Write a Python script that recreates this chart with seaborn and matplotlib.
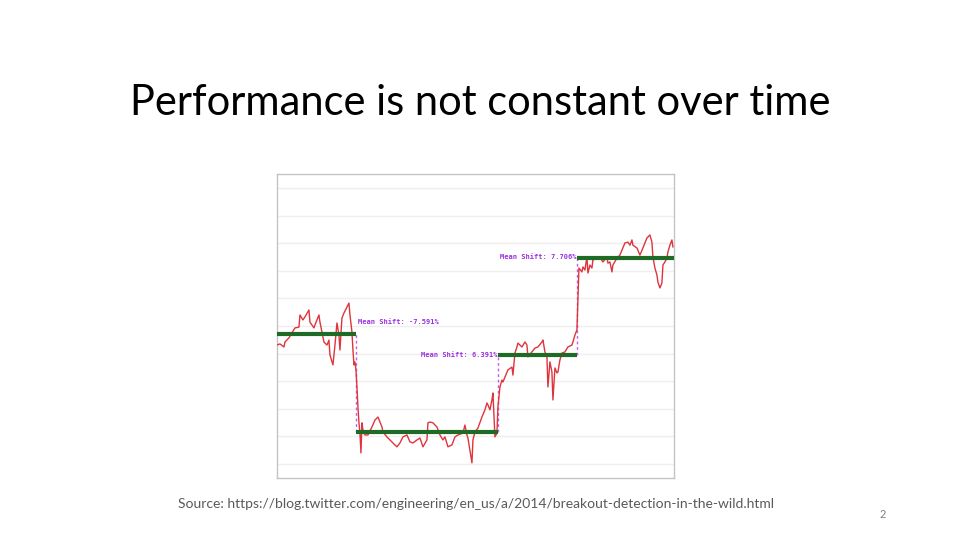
import numpy as np
import pandas as pd
import seaborn as sns
import matplotlib.pyplot as plt

# series (time step, value)
t = [0, 3, 7, 8, 12, 15, 18, 22, 23, 26, 28, 32, 33, 37, 38, 42, 43, 47, 50, 52,
     53, 56, 58, 60, 62, 63, 65, 67, 70, 72, 73, 75, 76, 77, 78, 79, 80, 81, 82, 83,
     84, 85, 86, 88, 91, 95, 98, 101, 103, 105, 106, 110, 113, 116, 120, 123, 126, 130, 133, 136,
     140, 143, 146, 150, 151, 153, 156, 160, 163, 166, 168, 171, 175, 178, 181, 186, 188, 190, 191, 195,
     196, 198, 201, 205, 208, 210, 211, 213, 215, 216, 218, 220, 221, 223, 225, 226, 228, 231, 235, 236,
     238, 240, 241, 245, 248, 250, 251, 255, 258, 261, 265, 266, 268, 270, 271, 273, 275, 276, 278, 280,
     281, 283, 285, 288, 291, 295, 296, 298, 300, 301, 302, 305, 306, 308, 310, 311, 313, 315, 316, 320,
     323, 326, 330, 331, 333, 335, 336, 340, 343, 345, 348, 351, 353, 355, 356, 360, 363, 366, 370, 373,
     375, 376, 378, 380, 381, 383, 385, 386, 388, 390, 391, 393, 395, 396]
values = [5.31, 5.35, 5.24, 5.42, 5.57, 5.75, 5.93, 5.96, 6.40, 6.22, 6.33, 6.58, 6.14, 5.93, 6.04, 6.40, 6.14, 5.42, 5.31, 5.49,
          4.95, 4.59, 5.31, 6.11, 5.67, 5.13, 6.29, 6.47, 6.69, 6.83, 6.40, 5.78, 5.13, 4.59, 4.70, 4.41, 3.79, 3.07, 2.49, 2.12,
          1.40, 2.49, 2.23, 2.05, 2.05, 2.34, 2.59, 2.70, 2.52, 2.34, 2.16, 1.98, 1.87, 1.76, 1.62, 1.76, 1.98, 2.05, 1.80, 1.76,
          1.87, 1.94, 1.62, 1.87, 2.49, 2.52, 2.49, 2.34, 2.05, 1.87, 1.98, 1.62, 1.69, 1.98, 2.05, 2.12, 2.41, 2.05, 1.94, 1.04,
          1.87, 2.16, 2.30, 2.70, 2.96, 3.21, 3.14, 2.96, 3.32, 3.57, 1.98, 2.12, 3.07, 3.79, 4.04, 3.97, 4.15, 4.41, 4.51, 4.22,
          5.02, 5.24, 5.38, 5.24, 5.42, 5.31, 4.88, 5.06, 5.20, 5.24, 5.42, 5.49, 5.06, 4.88, 3.79, 4.70, 4.33, 3.32, 4.48, 4.30,
          4.33, 4.77, 5.02, 5.06, 5.24, 5.31, 5.42, 5.67, 5.86, 7.01, 8.10, 7.96, 8.14, 8.03, 8.50, 7.92, 8.21, 8.10, 8.39, 8.46,
          8.50, 8.32, 8.50, 8.28, 8.32, 7.96, 8.21, 8.46, 8.57, 8.75, 9.01, 9.04, 8.93, 9.12, 8.93, 8.83, 8.57, 8.83, 9.19, 9.30,
          9.04, 8.50, 8.10, 7.85, 7.59, 7.38, 7.56, 8.21, 8.32, 8.46, 8.68, 8.93, 9.12, 8.86]

# breakout segments
seg_start = [0, 79, 221, 300]
seg_end = [79, 221, 300, 397]
seg_mean = [5.71, 2.16, 4.95, 8.46]
shift_labels = ["Mean Shift: -7.591%", "Mean Shift: 6.391%", "Mean Shift: 7.706%"]

df = pd.DataFrame({"t": t, "value": values})

sns.set_style("white")
plt.rcParams['font.family'] = ['Lato', 'DejaVu Sans']

fig = plt.figure(figsize=(9.6, 5.4), dpi=100)
ax = fig.add_axes([0.2885, 0.1148, 0.4135, 0.563])

for y in range(1, 12):
    ax.axhline(y, color="#efefef", lw=1, zorder=0)

sns.lineplot(data=df, x="t", y="value", ax=ax, color="#e0343c", lw=1.0, zorder=3)

ax.hlines(seg_mean, seg_start, seg_end, color="#1f6b25", lw=3, zorder=4)

# dashed connectors at breakpoints
for i in range(1, len(seg_start)):
    ax.vlines(seg_start[i], min(seg_mean[i - 1], seg_mean[i]), max(seg_mean[i - 1], seg_mean[i]),
              color="#c060e8", lw=1, linestyles=(0, (2, 2)), zorder=2)

mono = dict(family="DejaVu Sans Mono", fontsize=5, color="#9a30e0", fontweight="bold")
ax.text(seg_start[1] + 2, seg_mean[0] + 0.43, shift_labels[0], ha="left", va="center", **mono)
ax.text(seg_start[2], seg_mean[1] + 2.8, shift_labels[1], ha="right", va="center", **mono)
ax.text(seg_start[3], seg_mean[2] + 3.55, shift_labels[2], ha="right", va="center", **mono)

ax.set_xlim(0, 397)
ax.set_ylim(0.49, 11.51)
ax.set_xticks([])
ax.set_yticks([])
ax.set_xlabel("")
ax.set_ylabel("")
for s in ax.spines.values():
    s.set_color("#c4c4c4")
    s.set_linewidth(1)

fig.text(0.5, 1 - 103 / 540, "Performance is not constant over time", ha="center", va="center",
         fontsize=30, color="black")
fig.text(178 / 960, 1 - 504 / 540,
         "Source: https://blog.twitter.com/engineering/en_us/a/2014/breakout-detection-in-the-wild.html",
         ha="left", va="center", fontsize=10, color="#595959")
fig.text(883 / 960, 1 - 515 / 540, "2", ha="center", va="center", fontsize=8, color="#808080")

fig.savefig("out.png", dpi=100)
